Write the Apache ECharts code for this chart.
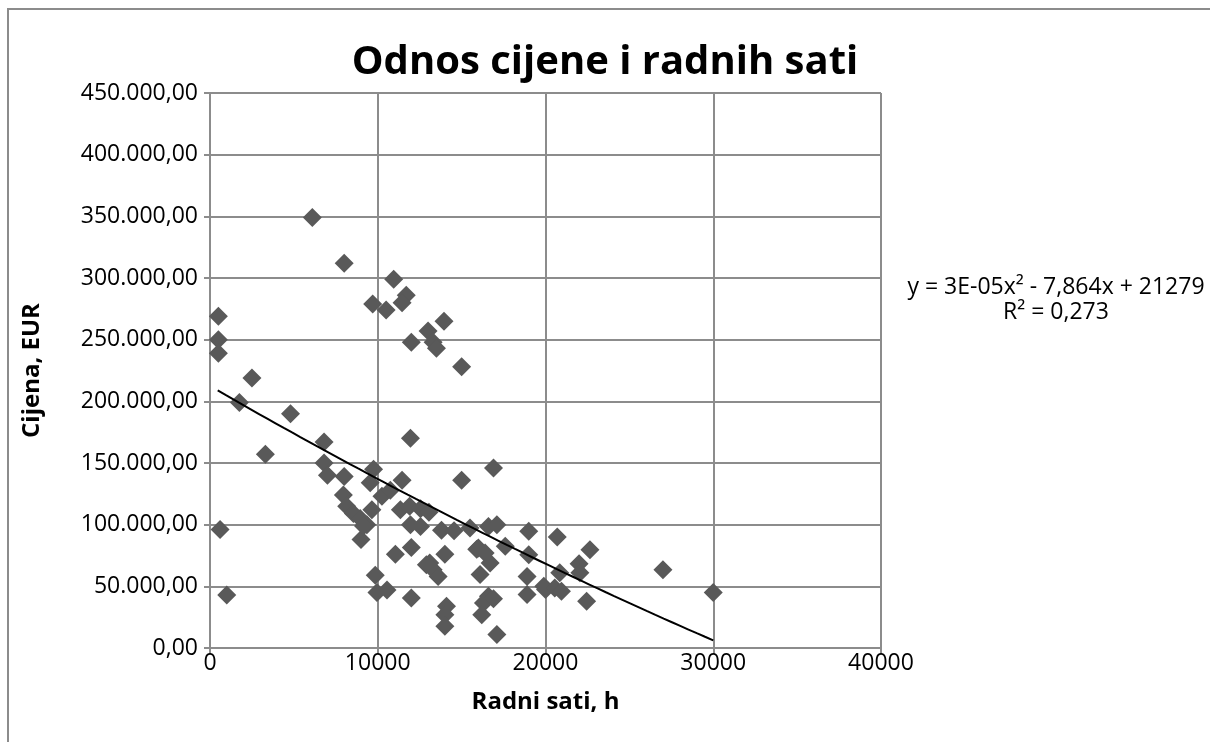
<!DOCTYPE html>
<html><head><meta charset="utf-8">
<script src="https://cdn.jsdelivr.net/npm/echarts@6/dist/echarts.min.js"></script>
<style>html,body{margin:0;padding:0;background:#fff}#c{width:1210px;height:742px}</style>
</head><body><div id="c"></div>
<script>
const TITLE = 'Odnos cijene i radnih sati';
const X_NAME = 'Radni sati, h';
const Y_NAME = 'Cijena, EUR';
const EQ_LINE1 = 'y = 3E-05x² - 7,864x + 21279';
const EQ_LINE2 = 'R² = 0,273';
const hours = [500,500,500,2500,1750,4800,3300,600,1000,
 6100,8000,6800,6800,7000,8000,7950,8150,8550,8950,9350,9000,9750,9550,9650,10250,10750,11450,11950,11350,9850,9950,10550,
 10950,9700,10500,11700,11450,13950,13000,12000,13300,13500,15000,
 15000,16900,11900,12550,13050,9150,11950,12550,13800,14550,15500,16600,17100,19000,11050,12000,14000,13100,16000,15900,16400,
 17600,19000,16700,12900,13300,13600,16100,18900,19900,18900,20000,12000,16600,16300,14100,14000,16200,14000,17100,16900,
 20700,22650,22000,22050,20850,20550,20950,22450,27000,30000];
const prices = [269000,250000,239000,219000,199000,190000,157000,96000,43000,
 349000,312000,167000,150000,140000,139000,124000,115000,109000,105000,100000,88000,145000,134000,112000,123000,128000,136000,170000,112000,59000,45000,47000,
 299000,279000,274000,286000,280000,265000,257000,248000,248000,243000,228000,
 136000,146000,115000,113000,110000,99000,100000,98500,95500,95000,97300,98600,100000,94600,76000,81500,76000,69000,81000,80000,77000,
 82400,75700,69000,67600,63500,58000,59500,58000,50000,43300,47500,40600,41900,36500,33800,27000,27000,17600,10900,40000,
 90000,79700,68400,61000,61000,48700,46000,38000,63500,45000];
const X_TICKS = [0,10000,20000,30000,40000];
const Y_TICKS = [0,50000,100000,150000,200000,250000,300000,350000,400000,450000];
// polynomial trendline coefficients (a, b, c) and x-range
const TREND = [3.3e-5, -7.864, 212410];
const TREND_RANGE = [460, 30000];

const pts = hours.map((h,i)=>[h, prices[i]]);
const trendPts = [];
for (let k=0;k<=60;k++){ const x = TREND_RANGE[0] + (TREND_RANGE[1]-TREND_RANGE[0])*k/60; trendPts.push([x, TREND[0]*x*x + TREND[1]*x + TREND[2]]); }

function fmtY(v){ const s = Math.round(v).toString().replace(/\B(?=(\d{3})+(?!\d))/g,'.'); return s + ',00'; }
const FONT = '"Open Sans", "Noto Sans", sans-serif';
const grid = '#8c8c8c';
const chart = echarts.init(document.getElementById('c'), null, {renderer:'canvas'});
chart.setOption({
  animation:false,
  backgroundColor:'#fff',
  title:{text:TITLE,left:'center',top:38,textStyle:{fontFamily:FONT,fontWeight:'bold',fontSize:40,color:'#000'}},
  grid:{left:210,right:329,top:93,bottom:94,containLabel:false},
  xAxis:{type:'value',min:X_TICKS[0],max:X_TICKS[X_TICKS.length-1],interval:10000,
    name:X_NAME,nameLocation:'middle',nameGap:42,nameTextStyle:{fontFamily:FONT,fontWeight:'bold',fontSize:24,color:'#000'},
    axisLine:{lineStyle:{color:grid,width:2}},axisTick:{show:true,length:6,lineStyle:{color:grid,width:2}},
    axisLabel:{fontFamily:FONT,fontSize:23,color:'#000',margin:4,formatter:v=>String(v)},
    splitLine:{show:true,lineStyle:{color:grid,width:2}}},
  yAxis:{type:'value',min:Y_TICKS[0],max:Y_TICKS[Y_TICKS.length-1],interval:50000,
    name:Y_NAME,nameLocation:'middle',nameGap:166,nameRotate:90,nameTextStyle:{fontFamily:FONT,fontWeight:'bold',fontSize:24,color:'#000'},
    axisLine:{show:true,lineStyle:{color:grid,width:2}},axisTick:{show:true,length:6,lineStyle:{color:grid,width:2}},
    axisLabel:{fontFamily:FONT,fontSize:23,color:'#000',margin:12,formatter:fmtY},
    splitLine:{show:true,lineStyle:{color:grid,width:2}}},
  series:[
    {type:'scatter',data:pts,symbol:'diamond',symbolSize:19,itemStyle:{color:'#595959',opacity:1},z:3},
    {type:'line',data:trendPts,symbol:'none',smooth:false,lineStyle:{color:'#000',width:2},z:4,silent:true}
  ],
  graphic:[
    {type:'rect',shape:{x:8,y:9,width:1400,height:1000},style:{fill:'none',stroke:'#8c8c8c',lineWidth:2},z:-1},
    {type:'text',x:1056,y:287,style:{text:EQ_LINE1,fontFamily:FONT,fontSize:23,fill:'#000',align:'center',verticalAlign:'middle'}},
    {type:'text',x:1056,y:312,style:{text:EQ_LINE2,fontFamily:FONT,fontSize:23,fill:'#000',align:'center',verticalAlign:'middle'}}
  ]
});
</script></body></html>
